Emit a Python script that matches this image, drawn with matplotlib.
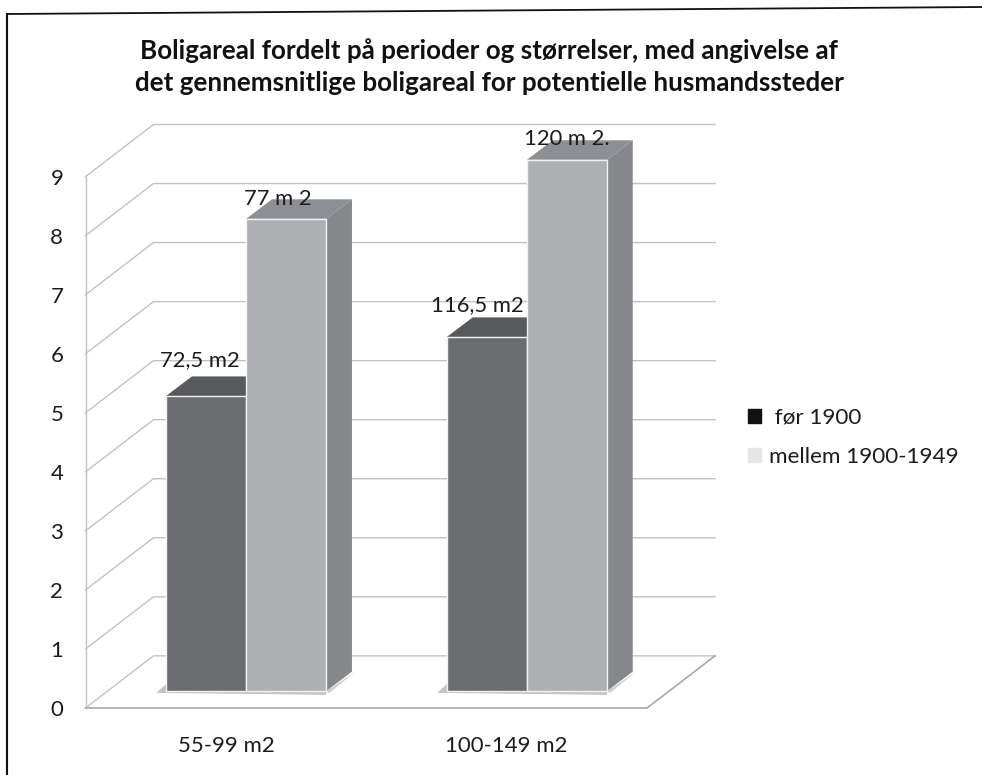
import numpy as np
import matplotlib
matplotlib.use('Agg')
import matplotlib.pyplot as plt
from matplotlib.lines import Line2D
from matplotlib.patches import Patch

# data
categories = ['55-99 m2', '100-149 m2']
series_names = [' før 1900', 'mellem 1900-1949']
before_1900 = [5, 6]
between_1900_1949 = [8, 9]
labels_before = ['72,5 m2', '116,5 m2']
labels_between = ['77 m 2', '120 m 2.']
yticks = list(range(10))

# plot params
W, H = 982., 775.
plt.rcParams['font.family'] = ['Lato', 'DejaVu Sans']
textCol = '#1c1c1c'
gridCol = '#c2c2c2'
barWidth = 0.285
wallDepth = (0.242, 0.883)   # back wall offset, data units
barDepth = (0.092, 0.331)    # depth of a bar
barShift = (0.072, 0.285)    # bars stand a bit in from the front of the floor
styles = [dict(front='#6b6c70', top='#58595d', side='#77787c'),
          dict(front='#aeafb3', top='#8e8f94', side='#86878b')]

fig = plt.figure(figsize=(W/100, H/100), dpi=100)
ax = fig.add_axes([85.5/W, 1-708/H, (715-85.5)/W, (708-124.5)/H])
ax.set_xlim(-0.5, 1.5+wallDepth[0])
ax.set_ylim(0, yticks[-1]+wallDepth[1])
ax.patch.set_visible(False)
for s in ax.spines.values():
    s.set_visible(False)

# walls and floor
x0, x1 = -0.5, 1.5
dx, dy = wallDepth
ax.plot([x0, x0], [0, yticks[-1]], color=gridCol, lw=1, clip_on=False)
for t in yticks:
    ax.plot([x0, x0+dx, x1+dx], [t, t+dy, t+dy], color=gridCol, lw=1, clip_on=False)
ax.plot([x0, x1, x1+dx], [0, 0, dy], color='#a8a8a8', lw=1.2, clip_on=False)

# bars, drawn by hand because the faces are pseudo 3d
cat_x = np.arange(len(categories))
offsets = [(-6, 36), (-8, 20), (-9, 32), (0, 21)]  # label offset from bar centre, px
k = 0
for i in range(len(categories)):
    for j, vals in enumerate([before_1900, between_1900_1949]):
        left = cat_x[i] + barShift[0] + (j-1)*barWidth
        base = barShift[1]
        top = base + vals[i]
        st = styles[j]
        ax.fill([left+barWidth, left+barWidth+barDepth[0]+0.012, left+barWidth+0.012, left+barWidth],
                [base, base+barDepth[1], base-0.03, base], color='#cfcfcf', lw=0, zorder=2)
        ax.fill([left-0.035, left, left+barWidth*2*(1-j)+barWidth*j, left+barWidth*2*(1-j)+barWidth*j],
                [base-0.03, base+0.12, base, base-0.06], color='#c4c4c4', lw=0, zorder=2)
        ax.fill([left, left+barWidth, left+barWidth+barDepth[0], left+barDepth[0]],
                [top, top, top+barDepth[1], top+barDepth[1]], color=st['top'], lw=0, zorder=3+k)
        ax.fill([left+barWidth, left+barWidth+barDepth[0], left+barWidth+barDepth[0], left+barWidth],
                [base, base+barDepth[1], top+barDepth[1], top], color=st['side'], lw=0, zorder=3+k)
        ax.bar(left+barWidth/2, vals[i], barWidth, bottom=base, color=st['front'],
               edgecolor='#f2f2f2', linewidth=1, zorder=3+k)
        lab = [labels_before, labels_between][j][i]
        ax.annotate(lab, (left+barWidth/2, top), xytext=(offsets[k][0]*0.72, offsets[k][1]*0.72),
                    textcoords='offset points', ha='center', va='center', fontsize=15.8,
                    color=textCol, zorder=20, annotation_clip=False)
        k += 1

# ticks
ax.set_yticks(yticks)
ax.set_xticks(cat_x)
ax.set_xticklabels(categories)
ax.tick_params(axis='both', length=0, labelsize=16, labelcolor=textCol)
ax.tick_params(axis='y', pad=16)
ax.tick_params(axis='x', pad=20)

# title
fig.text(489/W, 1-67/H, 'Boligareal fordelt på perioder og størrelser, med angivelse af\n'
         'det gennemsnitlige boligareal for potentielle husmandssteder',
         ha='center', va='center', fontsize=18.7, fontweight='bold', color='#111111', linespacing=1.4)

# legend
handles = [Patch(color='#111111'), Patch(color='#e6e6e6')]
leg = fig.legend(handles, series_names, loc='center left', bbox_to_anchor=(748/W, 1-437.5/H),
                 frameon=False, fontsize=16.2, labelcolor=textCol, handlelength=0.58, handleheight=0.58,
                 handletextpad=0.35, labelspacing=0.85, borderpad=0, borderaxespad=0)

# scanned frame
fig.add_artist(Line2D([7/W, 7/W], [0, 1-14/H], color='#111111', lw=1.5))
fig.add_artist(Line2D([7/W, 1], [1-14/H, 1-7/H], color='#111111', lw=1.3))

fig.savefig('out.png', dpi=100)
